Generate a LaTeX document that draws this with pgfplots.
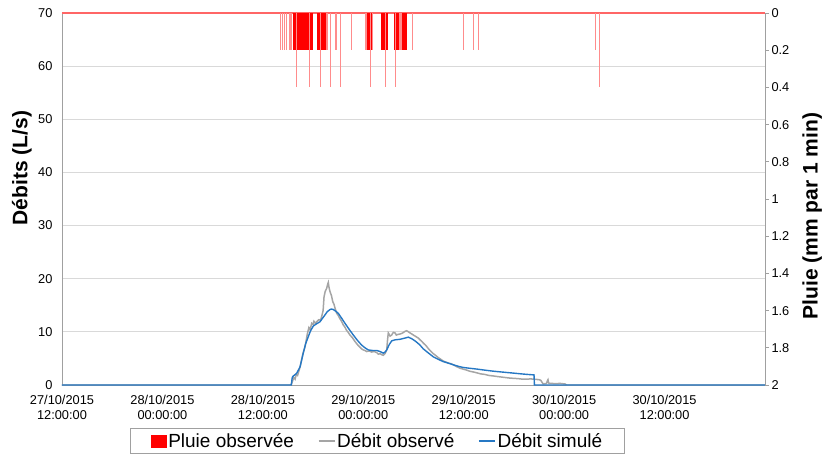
\documentclass[border=0pt]{standalone}
\usepackage{pgfplots}
\pgfplotsset{compat=1.18}
\usepackage{fontspec}
\setmainfont{Liberation Sans}
\definecolor{obsgray}{RGB}{165,165,165}
\definecolor{simblue}{RGB}{38,120,196}
\definecolor{gridc}{RGB}{217,217,217}
\definecolor{axc}{RGB}{160,160,160}
\definecolor{rainpale}{RGB}{255,140,140}
\newcommand{\tickfont}{\fontsize{12.8}{15}\selectfont}
\begin{document}
\begin{tikzpicture}[x=1pt,y=1pt]
\useasboundingbox (0,0) rectangle (825,456);
\begin{axis}[
  at={(62pt,71pt)}, anchor=south west, scale only axis,
  width=703pt, height=372pt,
  xmin=0, xmax=84, ymin=0, ymax=70,
  xtick={0,12,24,36,48,60,72},
  xticklabels={{27/10/2015\\12:00:00},{28/10/2015\\00:00:00},{28/10/2015\\12:00:00},{29/10/2015\\00:00:00},{29/10/2015\\12:00:00},{30/10/2015\\00:00:00},{30/10/2015\\12:00:00}},
  xticklabel style={align=center, font=\tickfont, yshift=-7pt},
  ytick={0,10,...,70},
  yticklabel style={font=\tickfont, xshift=-6pt},
  /pgf/number format/assume math mode=true,
  major tick length=0pt,
  xtick pos=bottom, ytick pos=left,
  ymajorgrids, grid style={gridc, line width=0.8pt},
  axis line style={axc, line width=0.8pt},
  ylabel={\bfseries Débits (L/s)},
  ylabel style={font=\fontsize{21}{24}\selectfont, at={(axis description cs:-0.057,0.583)}, anchor=center},
  clip=false,
]
\addplot[obsgray, line width=1.5pt] coordinates {
(0,0) (27.3,0) (27.45,0.3) (27.6,1.0) (27.7,1.4) (27.85,1.1) (28.0,2.0) (28.15,1.8) (28.3,2.6) (28.45,3.4) (28.6,4.5) (28.8,6.0) (29.04,7.2) (29.2,8.6) (29.3,9.5) (29.5,10.8) (29.65,10.4) (29.84,11.6) (30.0,11.4) (30.1,12.0) (30.3,11.6) (30.43,11.9) (30.7,12.3) (30.9,12.2) (31.03,12.9) (31.2,14.0) (31.31,16.6) (31.45,17.6) (31.63,18.2) (31.75,19.0) (31.82,19.3) (31.9,18.4) (32.02,17.6) (32.2,16.8) (32.35,15.7) (32.5,15.2) (32.6,14.6) (32.82,13.5) (33.0,13.1) (33.2,12.5) (33.4,12.0) (33.61,11.3) (33.8,10.9) (34.0,10.3) (34.2,9.9) (34.41,9.4) (34.7,8.9) (35.0,8.2) (35.3,7.6) (35.61,7.1) (35.8,6.8) (36.0,6.6) (36.2,6.5) (36.41,6.3) (36.7,6.4) (37.0,6.2) (37.3,6.3) (37.6,6.1) (37.8,5.8) (38.0,5.9) (38.2,5.7) (38.39,5.6) (38.6,5.9) (38.8,6.6) (38.9,8.5) (38.99,9.8) (39.1,9.5) (39.2,9.2) (39.39,9.4) (39.5,9.7) (39.6,9.9) (39.79,9.8) (39.95,9.4) (40.1,9.5) (40.39,9.6) (40.6,9.7) (40.8,9.9) (41.0,10.1) (41.19,10.2) (41.4,10.0) (41.58,9.8) (41.8,9.6) (41.98,9.4) (42.2,9.2) (42.4,9.0) (42.6,8.8) (42.78,8.5) (43.0,8.2) (43.17,7.9) (43.5,7.4) (43.8,6.8) (44.1,6.3) (44.37,5.9) (44.7,5.5) (45.0,5.1) (45.3,4.8) (45.56,4.5) (45.9,4.3) (46.2,4.1) (46.5,4.0) (46.76,3.8) (47.1,3.5) (47.5,3.2) (47.9,3.0) (48.36,2.8) (48.7,2.6) (49.0,2.5) (49.3,2.4) (49.55,2.3) (50.0,2.1) (50.5,2.0) (51.0,1.8) (51.54,1.7) (52.0,1.6) (52.5,1.5) (53.0,1.4) (53.53,1.3) (54.0,1.25) (54.5,1.2) (55.0,1.1) (55.53,1.1) (56.0,1.15) (56.32,1.1) (56.7,1.05) (57.0,1.0) (57.2,0.9) (57.32,0.6) (57.5,0.2) (57.9,0.3) (58.0,0.8) (58.07,1.0) (58.15,0.4) (58.2,0.3) (58.5,0.3) (59.0,0.25) (59.5,0.3) (60.1,0.2) (60.3,0) (84,0)
};
\addplot[simblue, line width=1.4pt] coordinates {
(0,0) (27.4,0) (27.5,1.3) (27.57,1.6) (28.04,2.2) (28.44,3.4) (28.83,6.0) (29.1,7.7) (29.43,9.1) (29.7,10.2) (30.03,11.1) (30.4,11.5) (30.83,11.9) (31.1,12.5) (31.43,13.2) (31.7,13.8) (32.02,14.2) (32.2,14.3) (32.42,14.2) (32.7,13.9) (33.01,13.5) (33.4,12.6) (33.82,11.6) (34.3,10.5) (34.81,9.4) (35.3,8.4) (35.81,7.5) (36.2,7.0) (36.6,6.6) (37.1,6.5) (37.6,6.5) (38.0,6.3) (38.39,6.0) (38.6,6.2) (38.8,6.6) (39.1,7.6) (39.39,8.3) (39.8,8.5) (40.39,8.6) (40.9,8.8) (41.38,9.0) (41.8,8.7) (42.18,8.3) (42.5,7.9) (42.78,7.5) (43.17,6.8) (43.8,6.0) (44.37,5.3) (45.0,4.8) (45.56,4.4) (46.2,4.1) (46.76,3.8) (47.4,3.5) (47.95,3.3) (48.7,3.15) (49.55,3.0) (50.5,2.8) (51.54,2.6) (52.5,2.45) (53.53,2.3) (54.5,2.15) (55.53,2.0) (56.4,1.9) (56.45,0) (84,0)
};
\end{axis}
\begin{axis}[
  at={(62pt,71pt)}, anchor=south west, scale only axis,
  width=703pt, height=372pt,
  xmin=0, xmax=84, ymin=0, ymax=2, y dir=reverse,
  axis x line=none, axis y line*=right,
  axis line style={axc, line width=0.8pt, -},
  ytick={0,0.2,...,2.01},
  yticklabel style={font=\tickfont, xshift=-1pt},
  /pgf/number format/assume math mode=true,
  /pgf/number format/fixed,
  tick style={axc, line width=0.8pt},
  major tick length=4pt, tick align=outside,
  ylabel={\bfseries Pluie (mm par 1 min)},
  ylabel style={font=\fontsize{21}{24}\selectfont, at={(axis description cs:1.067,0.454)}, anchor=center},
  legend style={name=leg, at={(0.4488,-0.1156)}, anchor=north, legend columns=3, draw=none,
    font=\fontsize{19}{22}\selectfont, inner xsep=20pt, inner ysep=3pt,
    /tikz/every even column/.append style={column sep=22pt}},
  legend cell align=left,
  clip=false,
]
\addlegendimage{legend image code/.code={\fill[red] (0pt,-6pt) rectangle (15pt,6pt);}}
\addlegendentry{Pluie observée}
\addlegendimage{legend image code/.code={\draw[obsgray, line width=1.2pt] (0pt,0pt) -- (16pt,0pt);}}
\addlegendentry{Débit observé}
\addlegendimage{legend image code/.code={\draw[simblue, line width=1.2pt] (0pt,0pt) -- (16pt,0pt);}}
\addlegendentry{Débit simulé}
% baseline of rain
\addplot[red!60, line width=1.2pt, forget plot] coordinates {(0,0) (84,0)};
% dense blocks
\addplot[fill=red, draw=none, forget plot] coordinates {(27.64,0.2) (30.03,0.2)} \closedcycle;
\addplot[fill=red, draw=none, forget plot] coordinates {(30.43,0.2) (31.6,0.2)} \closedcycle;
\addplot[fill=rainpale, draw=none, forget plot] coordinates {(31.6,0.2) (31.82,0.2)} \closedcycle;
\addplot[fill=rainpale, draw=none, forget plot] coordinates {(36.2,0.2) (36.5,0.2)} \closedcycle;
\addplot[fill=red, draw=none, forget plot] coordinates {(36.5,0.2) (37.0,0.2)} \closedcycle;
\addplot[fill=rainpale, draw=none, forget plot] coordinates {(37.0,0.2) (37.13,0.2)} \closedcycle;
\addplot[fill=red, draw=none, forget plot] coordinates {(38.12,0.2) (38.99,0.2)} \closedcycle;
\addplot[fill=red, draw=none, forget plot] coordinates {(39.7,0.2) (40.3,0.2)} \closedcycle;
\addplot[fill=rainpale, draw=none, forget plot] coordinates {(40.3,0.2) (40.6,0.2)} \closedcycle;
\addplot[fill=red, draw=none, forget plot] coordinates {(40.6,0.2) (41.19,0.2)} \closedcycle;
% isolated thin bars (0.2)
\addplot[ycomb, rainpale, line width=1pt, mark=none, forget plot] coordinates {
(26.05,0.2) (26.32,0.2) (26.56,0.2) (26.85,0.2) (27.16,0.2) (27.33,0.2) (27.45,0.2) (32.66,0.2) (32.82,0.2) (34.62,0.2) (41.9,0.2) (48.03,0.2) (49.15,0.2) (49.79,0.2) (63.72,0.2)
};
% bars reaching 0.4
\addplot[ycomb, rainpale, line width=1pt, mark=none, forget plot] coordinates {
(28.04,0.4) (29.63,0.4) (30.83,0.4) (32.14,0.4) (33.22,0.4) (36.89,0.4) (38.68,0.4) (39.79,0.4) (64.25,0.4)
};
\end{axis}
\draw[axc, line width=0.8pt] (leg.south west) rectangle (leg.north east);
\end{tikzpicture}
\end{document}
